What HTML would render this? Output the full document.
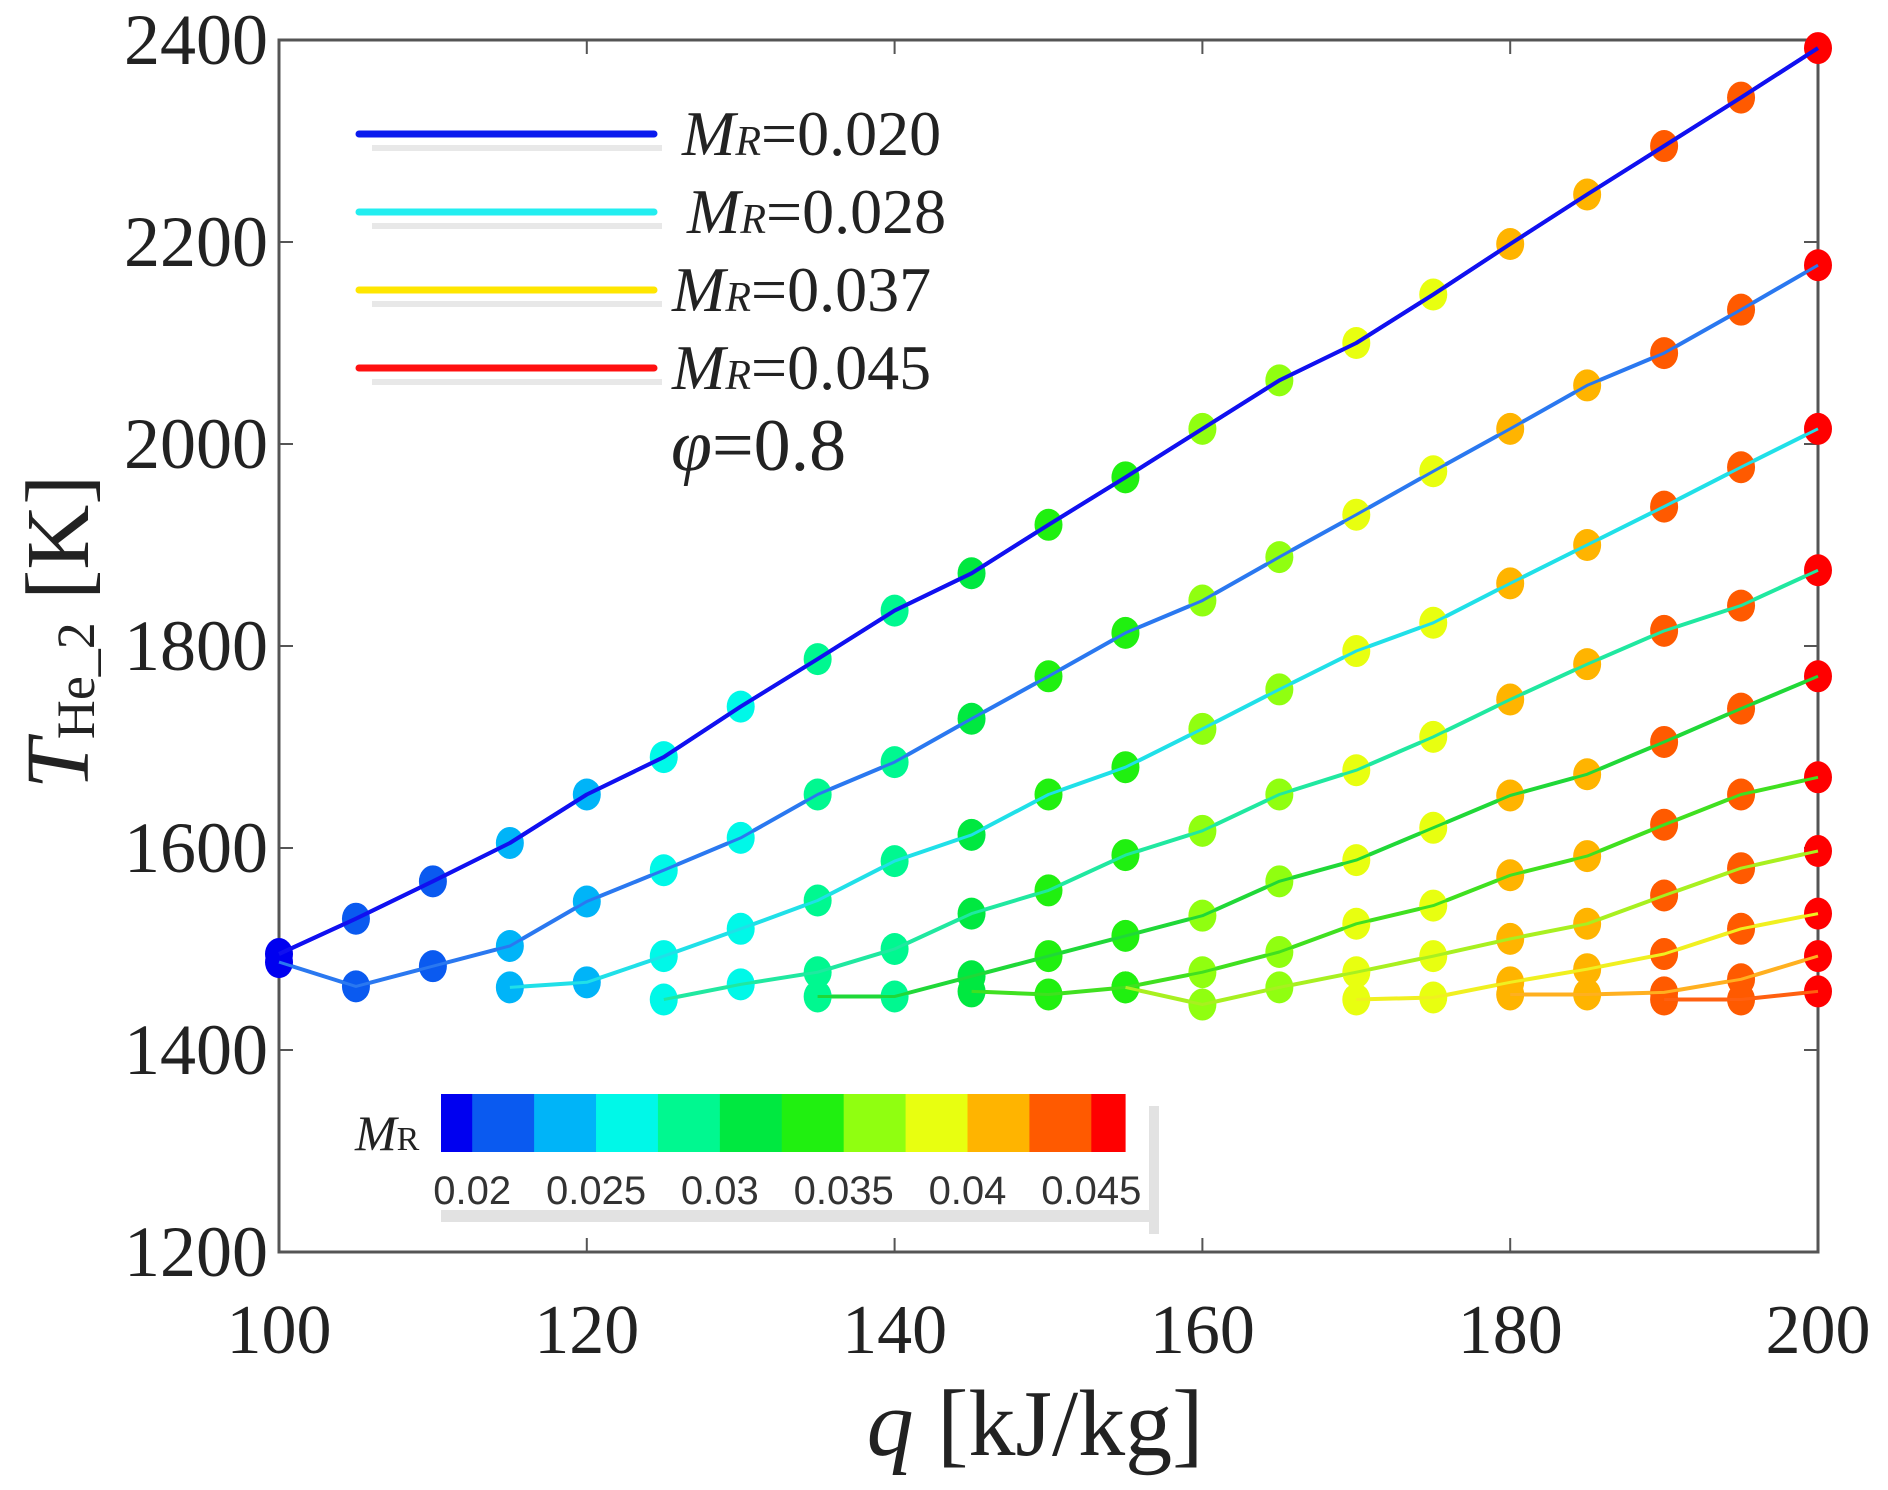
<!DOCTYPE html>
<html><head><meta charset="utf-8">
<style>
html,body{margin:0;padding:0;background:#fff;}
svg{display:block;}
text{font-family:"Liberation Serif",serif;fill:#222;}
</style></head>
<body>
<svg id="chart" width="1888" height="1490" viewBox="0 0 1888 1490">
  <rect x="0" y="0" width="1888" height="1490" fill="#fff"/>
  <g id="plot"></g>
</svg>
<script>
const xTicks=[100,120,140,160,180,200];
const yTicks=[1200,1400,1600,1800,2000,2200,2400];
const curveStart=[100,100,115,125,135,145,155,170,180,190];
const s1=[1495,1530,1567,1605,1653,1690,1740,1787,1835,1872,1920,1967,2015,2063,2100,2148,2198,2247,2295,2343,2392];
const s2=[1487,1463,1483,1503,1547,1578,1610,1653,1685,1728,1770,1813,1845,1888,1930,1973,2015,2058,2090,2133,2177];
const s3=[1462,1467,1493,1520,1548,1587,1613,1653,1680,1718,1757,1795,1823,1862,1900,1938,1977,2015];
const s4=[1450,1465,1477,1500,1535,1558,1593,1617,1653,1677,1710,1747,1782,1815,1840,1875];
const s5=[1453,1453,1473,1493,1513,1533,1567,1588,1620,1652,1673,1705,1738,1770];
const s6=[1458,1455,1462,1477,1497,1525,1543,1573,1592,1623,1653,1670];
const s7=[1462,1445,1462,1477,1493,1510,1525,1553,1580,1597];
const s8=[1450,1452,1467,1480,1495,1520,1535];
const s9=[1455,1455,1457,1470,1493];
const s10=[1450,1450,1458];
const series=[s1,s2,s3,s4,s5,s6,s7,s8,s9,s10];
const lineColors=['#1010f0','#2a78f0','#20e0e8','#20e8a0','#20d838','#40e020','#a8f020','#f0f020','#ffb020','#ff6010'];
const cbColors=['#0000f0','#0a5af0','#00b4f8','#00f8e8','#00f890','#00e840','#20f010','#90ff10','#e8ff10','#ffb400','#ff5a00','#ff0000'];
const cbTicks=[0.02,0.025,0.03,0.035,0.04,0.045];
const legendLabels=['0.020','0.028','0.037','0.045'];
const legendColors=['#0a1aee','#22eef0','#ffe600','#ff1010'];

const NS='http://www.w3.org/2000/svg';
const plot=document.getElementById('plot');
const X0=279,X1=1818,Y0=1252,Y1=40;
const xs=v=>X0+(v-100)/100*(X1-X0);
const ys=v=>Y0-(v-1200)/1200*(Y0-Y1);
function mk(tag,attrs,parent){const e=document.createElementNS(NS,tag);for(const k in attrs)e.setAttribute(k,attrs[k]);(parent||plot).appendChild(e);return e;}

const box=mk('rect',{x:X0,y:Y1,width:X1-X0,height:Y0-Y1,fill:'none',stroke:'#555','stroke-width':3});


xTicks.forEach(t=>{
  const tk=mk('path',{d:`M${xs(t)} ${Y0}v-14M${xs(t)} ${Y1}v14`,stroke:'#555','stroke-width':2});
  
  
  const tl=mk('text',{x:xs(t),y:1353,'text-anchor':'middle','font-size':70});
  tl.textContent=t;
  
  
});
yTicks.forEach(t=>{
  const tk=mk('path',{d:`M${X0} ${ys(t)}h14M${X1} ${ys(t)}h-14`,stroke:'#555','stroke-width':2});
  
  
  const tl=mk('text',{x:268,y:ys(t)+24,'text-anchor':'end','font-size':72});
  tl.textContent=t;
  
  
});
const xt=mk('text',{x:1035,y:1455,'text-anchor':'middle','font-size':94});
xt.innerHTML='<tspan font-style="italic">q</tspan> [kJ/kg]';


const yt=mk('text',{x:0,y:0,'text-anchor':'middle','font-size':90,transform:'translate(88,632) rotate(-90)'});
yt.innerHTML='<tspan font-style="italic">T</tspan><tspan font-size="54" dy="6">He_2</tspan><tspan dy="-6"> [K]</tspan>';



function markerColor(q){
  let i=Math.round((q-100)/100*11);
  if(i<0)i=0;if(i>11)i=11;
  return cbColors[i];
}

series.forEach((s,ci)=>{
  const start=curveStart[ci];
  const pts=s.map((v,i)=>`${xs(start+5*i).toFixed(1)},${ys(v).toFixed(1)}`).join(' ');
  const pl=mk('polyline',{points:pts,fill:'none',stroke:lineColors[ci],'stroke-width':4,'stroke-linejoin':'round'});
  
  
});
series.forEach((s,ci)=>{
  const start=curveStart[ci];
  s.forEach((v,i)=>{
    const q=start+5*i;
    const c=mk('ellipse',{cx:xs(q),cy:ys(v),rx:14,ry:16,fill:markerColor(q)});
    
    
  });
});
series.forEach((s,ci)=>{
  const start=curveStart[ci];
  const pts=s.map((v,i)=>`${xs(start+5*i).toFixed(1)},${ys(v).toFixed(1)}`).join(' ');
  const pl=mk('polyline',{points:pts,fill:'none',stroke:lineColors[ci],'stroke-width':ci===0?4:3,'stroke-linejoin':'round'});
  
  
});

const legY=[134,212,290,368];
const legTX=[682,687,672,672];
legendLabels.forEach((lab,i)=>{
  const sh=mk('line',{x1:372,x2:662,y1:legY[i]+14,y2:legY[i]+14,stroke:'#e8e8e8','stroke-width':6});
  
  
  const ln=mk('line',{x1:359,x2:654,y1:legY[i],y2:legY[i],stroke:legendColors[i],'stroke-width':7,'stroke-linecap':'round'});
  
  
  const tx=mk('text',{x:legTX[i],y:legY[i]+21,'font-size':64});
  tx.innerHTML='<tspan font-style="italic">M</tspan><tspan font-style="italic" font-size="42">R</tspan>='+lab;
  
  
});
const phi=mk('text',{x:671,y:470,'font-size':74});
phi.innerHTML='<tspan font-style="italic">φ</tspan>=0.8';



const cbX0=441,cbX1=1125,cbY=1094,cbH=58;
const cbMin=0.01874,cbMax=0.04636;
const cbx=v=>cbX0+(v-cbMin)/(cbMax-cbMin)*(cbX1-cbX0);
const shR=mk('rect',{x:cbX1+24,y:cbY+12,width:10,height:128,fill:'#e2e2e2'});


const shB=mk('rect',{x:cbX0,y:1210,width:cbX1-cbX0+34,height:12,fill:'#e2e2e2'});


cbColors.forEach((c,i)=>{
  const a=i===0?cbMin:0.02+0.0025*(i-1);
  const b=i===11?cbMax:0.02+0.0025*i;
  const r=mk('rect',{x:cbx(a),y:cbY,width:cbx(b)-cbx(a)+0.6,height:cbH,fill:c});
  
  
});
cbTicks.forEach(t=>{
  const tl=mk('text',{x:cbx(t),y:1204,'text-anchor':'middle','font-size':40,style:'font-family:"Liberation Sans",sans-serif;fill:#333'});
  tl.textContent=String(t);
  
  
});
const cbl=mk('text',{x:355,y:1150,'font-size':50});
cbl.innerHTML='<tspan font-style="italic">M</tspan><tspan font-size="34">R</tspan>';


</script>
</body></html>
